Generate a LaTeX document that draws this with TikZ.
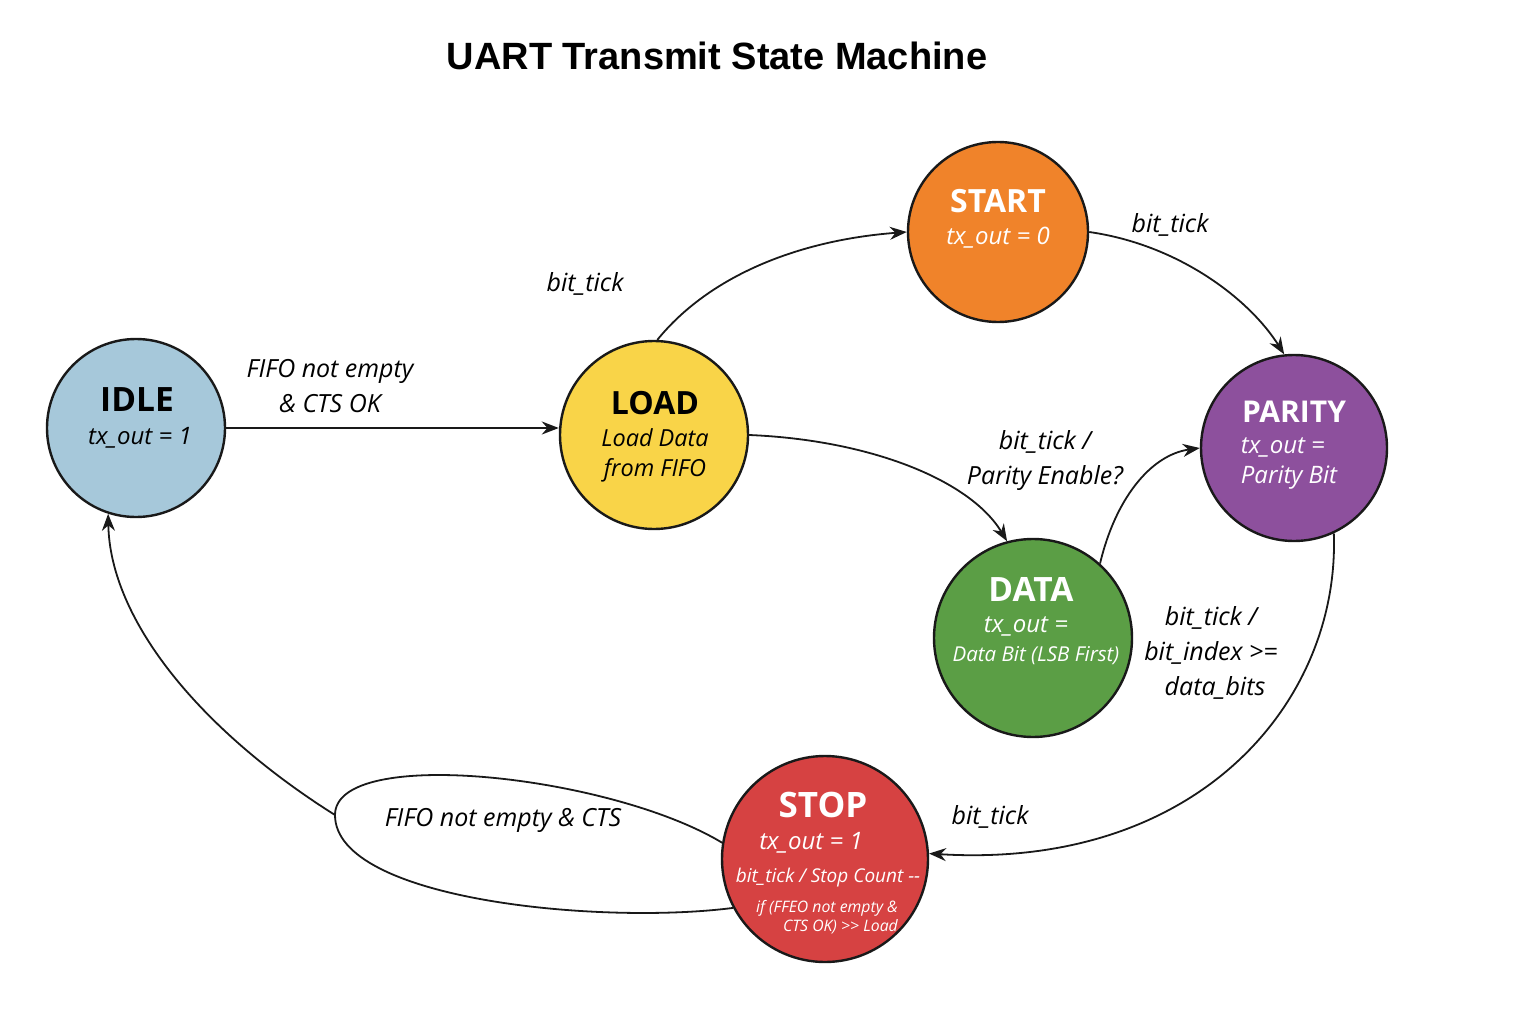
\documentclass[tikz,border=0pt]{standalone}
\usepackage{fontspec}
\setmainfont{Open Sans}
\newfontfamily\titlefont{Liberation Sans}
\usetikzlibrary{arrows.meta}
\definecolor{cidle}{HTML}{A6C8DA}
\definecolor{cload}{HTML}{F9D448}
\definecolor{cstart}{HTML}{F0832A}
\definecolor{cparity}{HTML}{8D509D}
\definecolor{cdata}{HTML}{5B9E45}
\definecolor{cstop}{HTML}{D64242}
\begin{document}
\begin{tikzpicture}[x=1pt,y=-1pt,
  state/.style={circle,draw=black!90,line width=2.4pt,inner sep=0pt},
  sname/.style={font=\fontsize{32}{36}\selectfont\bfseries,inner sep=0pt},
  stext/.style={font=\fontsize{24}{30}\selectfont\itshape,inner sep=0pt,align=center},
  lbl/.style={font=\fontsize{25}{35}\selectfont\itshape,inner sep=0pt,align=center},
  edge/.style={line width=1.8pt,draw=black!90},
  arr/.style={edge,-{Stealth[length=17pt,width=13pt]}}]
\useasboundingbox[fill=white] (0,0) rectangle (1536,1024);

\node[font=\fontsize{38}{40}\selectfont\titlefont\bfseries,inner sep=0pt] (title) at (717,56) {UART Transmit State Machine};

% states
\node[state,fill=cidle,minimum size=178pt] (idle) at (136,428) {};
\node[state,fill=cload,minimum size=188pt] (load) at (654,435) {};
\node[state,fill=cstart,minimum size=180pt] (start) at (998,232) {};
\node[state,fill=cparity,minimum size=186pt] (parity) at (1294,448) {};
\node[state,fill=cdata,minimum size=198pt] (data) at (1033,638) {};
\node[state,fill=cstop,minimum size=206pt] (stop) at (825,859) {};

% state texts
\node[sname,font=\fontsize{33.5}{36}\selectfont\bfseries] (idleN) at (137,400) {IDLE};
\node[stext] (idleT) at (140,438) {tx\_out = 1};
\node[sname] (loadN) at (655,403) {LOAD};
\node[stext,font=\fontsize{23.5}{30}\selectfont\itshape] (loadT) at (655,455) {Load Data\\from FIFO};
\node[sname,text=white] (startN) at (998,201) {START};
\node[stext,text=white] (startT) at (998,238) {tx\_out = 0};
\node[sname,text=white,font=\fontsize{30}{36}\selectfont\bfseries] (parityN) at (1294,412) {PARITY};
\node[stext,text=white,align=left] (parityT) at (1289,463) {tx\_out =\\Parity Bit};
\node[sname,text=white,font=\fontsize{33.5}{36}\selectfont\bfseries] (dataN) at (1031,589) {DATA};
\node[stext,text=white] (dataT) at (1026,626) {tx\_out =};
\node[font=\fontsize{20.5}{24}\selectfont\itshape,text=white,inner sep=0pt] (dataT2) at (1036,656) {Data Bit (LSB First)};
\node[sname,text=white,font=\fontsize{35}{38}\selectfont\bfseries] (stopN) at (823,805) {STOP};
\node[stext,text=white] (stopT) at (811,843) {tx\_out = 1};
\node[font=\fontsize{19}{22}\selectfont\itshape,text=white,inner sep=0pt] (stopT2) at (828,878) {bit\_tick / Stop Count -{}-};
\node[font=\fontsize{15.8}{19}\selectfont\itshape,text=white,inner sep=0pt,align=right,anchor=east] (stopT3) at (898,917) {if (FFEO not empty \&\\CTS OK) >{}> Load};

% edges
\draw[arr] (idle.east) -- (load.west |- idle.east);
\draw[arr] (load.88) .. controls (710,275) and (800,240) .. (start.west);
\draw[arr] (start.east) .. controls (1180,245) and (1250,300) .. (parity.96);
\draw[arr] (load.east) .. controls (870,440) and (970,480) .. (data.105);
\draw[arr] (data.48) .. controls (1115,500) and (1150,455) .. (parity.west);
\draw[arr] (parity.-65) .. controls (1340,700) and (1200,870) .. (stop.3);
\coordinate (loopL) at (335,815);
\draw[edge] (stop.171) .. controls (610,775) and (335,745) .. (loopL);
\draw[edge] (stop.208) .. controls (600,925) and (335,900) .. (loopL);
\draw[arr] (loopL) .. controls (200,730) and (110,620) .. (idle.252);

% labels
\node[lbl] (l1) at (330,386) {FIFO not empty\\\& CTS OK};
\node[lbl] (l2) at (585,284) {bit\_tick};
\node[lbl] (l3) at (1170,225) {bit\_tick};
\node[lbl] (l4) at (1045,461) {bit\_tick /\\Parity Enable?};
\node[lbl] (l5) at (1211,653) {bit\_tick /\\bit\_index >=\\\hspace*{8pt}data\_bits};
\node[lbl] (l6) at (990,817) {bit\_tick};
\node[lbl] (l7) at (503,820) {FIFO not empty \& CTS};
\end{tikzpicture}
\end{document}
